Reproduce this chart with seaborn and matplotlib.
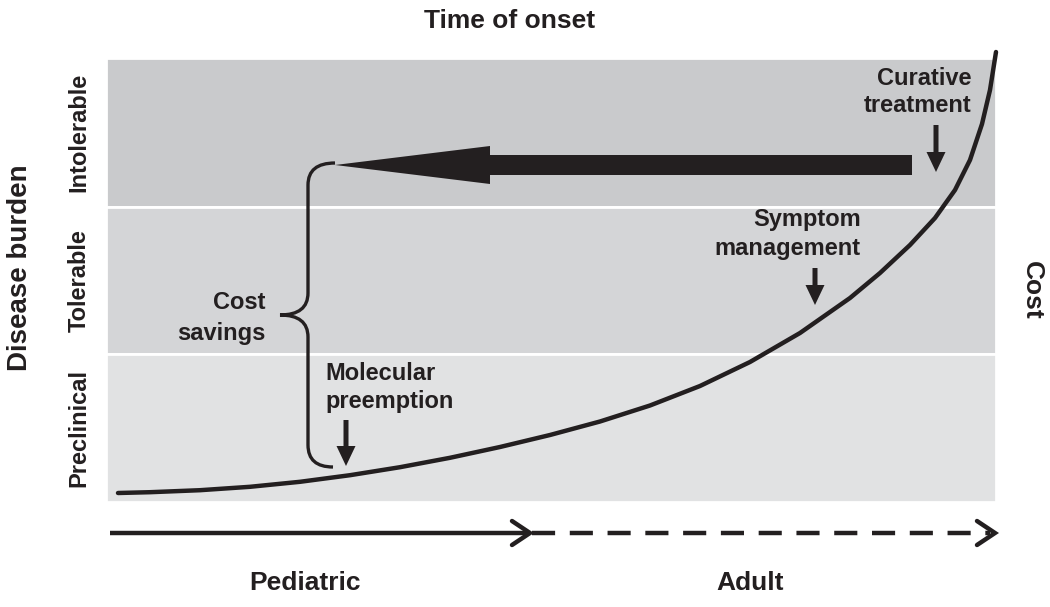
"""Time of onset vs disease burden / cost concept figure
"""
import numpy as np
import matplotlib.pyplot as plt
import seaborn as sns
from matplotlib.patches import FancyArrow, PathPatch
from matplotlib.path import Path

# canvas is laid out in pixel units (x right, y down)
W, H = 1050, 607
ink = '#231f20'

# burden bands (top, bottom) and their labels
band_names = ['Intolerable', 'Tolerable', 'Preclinical']
band_tops = [58, 207, 354]
band_bottoms = [207, 354, 502]
band_colors = ['#c9cacc', '#d4d5d7', '#e1e2e3']
band_left, band_right = 106, 996

# cost curve
curve_x = [118, 150, 200, 250, 300, 350, 400, 450, 500, 550, 600, 650,
           700, 750, 800, 850, 880, 910, 935, 955, 970, 982, 990, 996]
curve_y = [493, 492.2, 490.2, 486.8, 481.8, 475.2, 467.2, 457.8, 447, 435,
           421.5, 405.5, 386, 362, 333, 298, 273, 245, 218, 190, 160, 124,
           90, 52]

# callouts: label lines, anchor x, baselines, alignment, arrow (x, y_start, y_end)
callouts = [
    (['Curative', 'treatment'], 972, [85, 112], 'right', (936, 125, 172)),
    (['Symptom', 'management'], 861, [226, 255], 'right', (815, 268, 305)),
    (['Molecular', 'preemption'], 325, [380, 408], 'left', (346, 420, 466)),
]
savings_lines = ['Cost', 'savings']

# big "shift earlier" arrow
shift_start, shift_end, shift_y = 912, 335, 165

# brace
brace_x, brace_cusp, brace_end = 308, 280, 335
brace_top, brace_mid, brace_bot = 163, 315, 467

# time axis
ped_x, adult_x, time_y = [110, 529], [532, 990], 533
age_labels = ['Pediatric', 'Adult']
age_label_x = [305, 750]

sns.set_theme(style='white')
plt.rcParams['font.family'] = ['Liberation Sans', 'DejaVu Sans']
plt.rcParams['font.weight'] = 'bold'

fig = plt.figure(figsize=(W / 100, H / 100), dpi=100)
ax = fig.add_axes([0, 0, 1, 1])
ax.set_xlim(0, W)
ax.set_ylim(H, 0)
ax.axis('off')

for name, top, bot, col in zip(band_names, band_tops, band_bottoms, band_colors):
    ax.fill_between([band_left, band_right], top, bot, color=col,
                    edgecolor='white', linewidth=2)
    ax.text(79, (top + bot) / 2, name, rotation=90, ha='center', va='center',
            fontsize=17, color=ink)

sns.lineplot(x=curve_x, y=curve_y, ax=ax, color=ink, linewidth=3.2,
             sort=False, estimator=None, solid_joinstyle='round')

# shift arrow
ax.add_patch(FancyArrow(shift_start, shift_y, shift_end - shift_start, 0,
                        width=20, head_width=38, head_length=155,
                        length_includes_head=True, color=ink, lw=0))

for lines, x, bases, ha, (ax_x, y0, y1) in callouts:
    for line, b in zip(lines, bases):
        ax.text(x, b, line, ha=ha, va='baseline', fontsize=17, color=ink)
    ax.add_patch(FancyArrow(ax_x, y0, 0, y1 - y0, width=5, head_width=19,
                            head_length=20, length_includes_head=True,
                            color=ink, lw=0))

for line, b in zip(savings_lines, [309, 340]):
    ax.text(266, b, line, ha='right', va='baseline', fontsize=17, color=ink)

# curly brace
r = 22
verts = [(brace_end, brace_top),
         (brace_x, brace_top), (brace_x, brace_top + r),
         (brace_x, brace_mid - r),
         (brace_x, brace_mid), (brace_cusp, brace_mid),
         (brace_x, brace_mid), (brace_x, brace_mid + r),
         (brace_x, brace_bot - r),
         (brace_x, brace_bot), (brace_end - 2, brace_bot)]
codes = [Path.MOVETO, Path.CURVE3, Path.CURVE3, Path.LINETO,
         Path.CURVE3, Path.CURVE3, Path.CURVE3, Path.CURVE3, Path.LINETO,
         Path.CURVE3, Path.CURVE3]
ax.add_patch(PathPatch(Path(verts, codes), fill=False, edgecolor=ink, lw=2.4))

# time axis arrows
ax.plot(ped_x, [time_y, time_y], color=ink, lw=3.2, solid_capstyle='butt')
ax.plot(adult_x, [time_y, time_y], color=ink, lw=3.2, ls=(0, (5.2, 3.3)))
for tip in [ped_x[1] + 1, adult_x[1] + 5]:
    ax.plot([tip - 18, tip, tip - 18], [time_y - 12, time_y, time_y - 12 + 24],
            color=ink, lw=3.2, solid_capstyle='round', solid_joinstyle='miter')

for lab, x in zip(age_labels, age_label_x):
    ax.text(x, 590, lab, ha='center', va='baseline', fontsize=19, color=ink)

ax.text(510, 28, 'Time of onset', ha='center', va='baseline', fontsize=19, color=ink)
ax.text(20, 268, 'Disease burden', rotation=90, ha='center', va='center',
        fontsize=20, color=ink)
ax.text(1032, 290, 'Cost', rotation=-90, ha='center', va='center',
        fontsize=19, color=ink)

fig.savefig('out.png', dpi=100)
